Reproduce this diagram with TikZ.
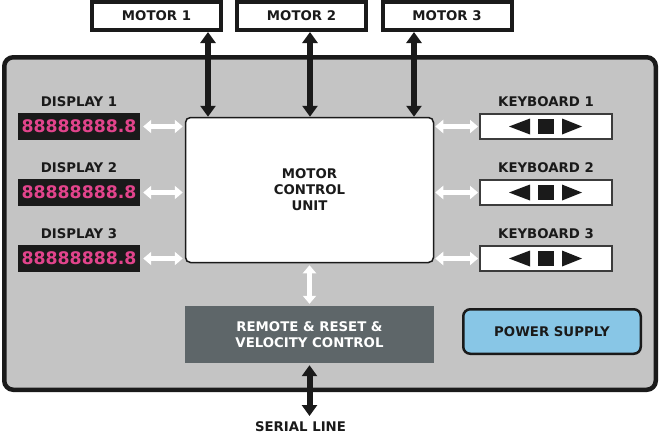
\documentclass[tikz,border=0pt]{standalone}
\usepackage{fontspec}
\setmainfont{DejaVu Sans}
\usetikzlibrary{arrows.meta}
\definecolor{ink}{HTML}{1A1A1A}
\definecolor{panel}{HTML}{C4C4C4}
\definecolor{slate}{HTML}{5E6669}
\definecolor{sky}{HTML}{88C6E6}
\definecolor{led}{HTML}{E2448C}
\begin{document}
\begin{tikzpicture}[x=1pt,y=-1pt,
    lbl/.style={font=\fontsize{13.3}{16}\selectfont\bfseries,text=ink,align=center,inner sep=0pt},
    motorbox/.style={lbl,draw=ink,line width=4pt,fill=white,minimum width=129pt,minimum height=28pt},
    dispbox/.style={fill=ink,text=led,font=\fontsize{17.3}{17}\selectfont\bfseries,minimum width=122pt,minimum height=27pt,inner sep=0pt},
    keybox/.style={draw=ink!85,line width=2pt,fill=white,minimum width=132pt,minimum height=25pt,inner sep=0pt},
    darrow/.style={draw=ink,line width=6pt,{Triangle[length=11pt,width=15pt]}-{Triangle[length=11pt,width=15pt]}},
    warrow/.style={draw=white,line width=5pt,{Triangle[length=8pt,width=13pt]}-{Triangle[length=8pt,width=13pt]}}]
    \useasboundingbox (0,0) rectangle (660,434);
    \draw[ink,line width=4.5pt,fill=panel,rounded corners=9pt] (4.25,57.25) rectangle (655.75,389.75);
    \node[motorbox] (M1) at (156.5,16) {MOTOR 1};
    \node[motorbox] (M2) at (301.5,16) {MOTOR 2};
    \node[motorbox] (M3) at (447,16) {MOTOR 3};
    \node[lbl,draw=ink,line width=1.5pt,fill=white,rounded corners=5pt,minimum width=248pt,minimum height=145pt] (MCU) at (309.5,190) {MOTOR\\CONTROL\\UNIT};
    \node[lbl,text=white,fill=slate,minimum width=249pt,minimum height=57pt] (RV) at (309.5,334.5) {REMOTE \& RESET \&\\VELOCITY CONTROL};
    \node[lbl,draw=ink,line width=2.5pt,fill=sky,rounded corners=7pt,minimum width=177.5pt,minimum height=44.5pt] (PS) at (552,331.5) {POWER SUPPLY};
    \node[lbl] (DL1) at (79,102) {DISPLAY 1}; \node[dispbox] (D1) at (79,126.5) {88888888.8};
    \node[lbl] (DL2) at (79,168) {DISPLAY 2}; \node[dispbox] (D2) at (79,192.5) {88888888.8};
    \node[lbl] (DL3) at (79,234) {DISPLAY 3}; \node[dispbox] (D3) at (79,258.5) {88888888.8};
    \node[lbl] (KL1) at (546,102) {KEYBOARD 1}; \node[keybox] (K1) at (546,126.5) {};
    \node[lbl] (KL2) at (546,168) {KEYBOARD 2}; \node[keybox] (K2) at (546,192.5) {};
    \node[lbl] (KL3) at (546,234) {KEYBOARD 3}; \node[keybox] (K3) at (546,258.5) {};
    \foreach \k in {K1,K2,K3}{
      \fill[ink] ([xshift=-37pt]\k.center) -- ++(21,-8) -- ++(0,16) -- cycle;
      \fill[ink] ([xshift=-8pt,yshift=7.5pt]\k.center) rectangle ++(16,15);
      \fill[ink] ([xshift=36pt]\k.center) -- ++(-20,-8) -- ++(0,16) -- cycle;
    }
    \draw[darrow] ([xshift=51.5pt]M1.south) -- ([xshift=51.5pt]M1.south |- MCU.north);
    \draw[darrow] ([xshift=8.5pt]M2.south) -- ([xshift=8.5pt]M2.south |- MCU.north);
    \draw[darrow] ([xshift=-33pt]M3.south) -- ([xshift=-33pt]M3.south |- MCU.north);
    \draw[warrow] ([xshift=3pt]D1.east) -- ([xshift=-2pt]D1.east -| MCU.west);
    \draw[warrow] ([xshift=3pt]D2.east) -- ([xshift=-2pt]D2.east -| MCU.west);
    \draw[warrow] ([xshift=3pt]D3.east) -- ([xshift=-2pt]D3.east -| MCU.west);
    \draw[warrow] ([xshift=1pt]K1.west -| MCU.east) -- ([xshift=-1pt]K1.west);
    \draw[warrow] ([xshift=1pt]K2.west -| MCU.east) -- ([xshift=-1pt]K2.west);
    \draw[warrow] ([xshift=1pt]K3.west -| MCU.east) -- ([xshift=-1pt]K3.west);
    \draw[warrow] ([yshift=-2pt]MCU.south) -- ([yshift=2pt]RV.north);
    \coordinate (SER) at (309.5,416);
    \draw[darrow] ([yshift=-2pt]RV.south) -- (SER);
    \node[lbl] (SL) at (300.5,426.5) {SERIAL LINE};
\end{tikzpicture}
\end{document}
